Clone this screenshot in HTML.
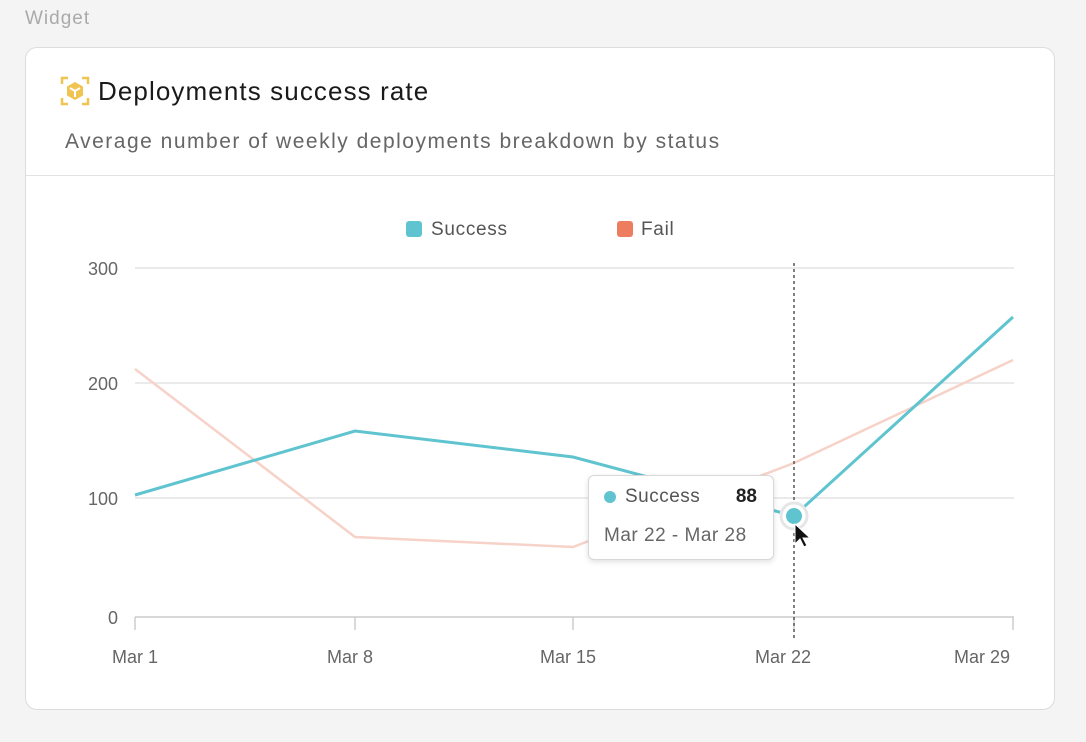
<!DOCTYPE html>
<html><head><style>
body{margin:0;width:1086px;height:742px;background:#f4f4f4;font-family:"Liberation Sans",sans-serif;position:relative;overflow:hidden}
.lbl{position:absolute;left:25px;top:8px;font-size:19px;color:#aaa;letter-spacing:1px}
.card{position:absolute;left:25px;top:47px;width:1028px;height:661px;background:#fff;border:1px solid #dcdcdc;border-radius:12px}
.title{position:absolute;left:98px;top:76px;font-size:26px;color:#1a1a1a;letter-spacing:1.1px}
.sub{position:absolute;left:65px;top:130px;font-size:21px;color:#666;letter-spacing:1.5px}
.div{position:absolute;left:26px;top:175px;width:1028px;height:1px;background:#e2e2e2}
.tip{position:absolute;left:588px;top:475px;width:184px;height:83px;background:#fff;border:1px solid #d8d8d8;border-radius:6px;box-shadow:0 2px 6px rgba(0,0,0,.12)}
</style></head><body>
<div class="lbl">Widget</div>
<div class="card"></div>
<svg style="position:absolute;left:60px;top:76px" width="30" height="30" viewBox="0 0 30 30">
<path d="M2 8V2h6M22 2h6v6M28 22v6h-6M8 28H2v-6" stroke="#f0c451" stroke-width="2.5" fill="none"/>
<polygon points="15,6 23,10.5 23,19.5 15,24 7,19.5 7,10.5" fill="#f0c451"/>
<path d="M10 12l5 3 5-3M15 15v6" stroke="#fff" stroke-width="2" fill="none"/>
</svg>
<div class="title">Deployments success rate</div>
<div class="sub">Average number of weekly deployments breakdown by status</div>
<div class="div"></div>
<svg style="position:absolute;left:0;top:0" width="1086" height="742">
<rect x="406" y="221" width="16" height="16" rx="3" fill="#5fc4cf"/>
<text x="431" y="235" font-size="19" fill="#555" font-family="Liberation Sans" letter-spacing="0.7">Success</text>
<rect x="617" y="221" width="16" height="16" rx="3" fill="#ee7d60"/>
<text x="641" y="235" font-size="19" fill="#555" font-family="Liberation Sans" letter-spacing="0.7">Fail</text>
<g stroke="#e4e4e4" stroke-width="1.5">
<line x1="135" y1="268" x2="1014" y2="268"/><line x1="135" y1="383" x2="1014" y2="383"/><line x1="135" y1="498" x2="1014" y2="498"/>
</g>
<line x1="135" y1="617" x2="1014" y2="617" stroke="#ccc" stroke-width="1.5"/>
<g stroke="#ccc" stroke-width="1.5"><line x1="135" y1="617" x2="135" y2="630"/><line x1="355" y1="617" x2="355" y2="630"/><line x1="573" y1="617" x2="573" y2="630"/><line x1="794" y1="617" x2="794" y2="630"/><line x1="1013" y1="617" x2="1013" y2="630"/></g>
<g font-size="18" fill="#666" font-family="Liberation Sans" text-anchor="end">
<text x="118" y="275">300</text><text x="118" y="390">200</text><text x="118" y="505">100</text><text x="118" y="624">0</text></g>
<g font-size="18" fill="#666" font-family="Liberation Sans" text-anchor="middle">
<text x="135" y="663">Mar 1</text><text x="350" y="663">Mar 8</text><text x="568" y="663">Mar 15</text><text x="783" y="663">Mar 22</text><text x="982" y="663">Mar 29</text></g>
<polyline points="135,369 355,537 573,547 794,463 1013,360" fill="none" stroke="#f6d2c8" stroke-width="2.5"/>
<line x1="794" y1="263" x2="794" y2="640" stroke="#555" stroke-width="1.5" stroke-dasharray="3,3"/>
<polyline points="135,495 355,431 573,457 794,516 1013,317" fill="none" stroke="#5fc4cf" stroke-width="3"/>
<circle cx="794" cy="516" r="13" fill="#fff" stroke="#e6e6e6" stroke-width="3"/>
<circle cx="794" cy="516" r="8" fill="#5fc4cf"/>
<path d="M795 524v20l5-5 4 8 3-1.5-4-7.5h7z" fill="#111" stroke="#fff" stroke-width="1"/>
</svg>
<div class="tip">
<div style="position:absolute;left:15px;top:15px;width:12px;height:12px;border-radius:50%;background:#5fc4cf"></div>
<div style="position:absolute;left:36px;top:10px;font-size:19px;color:#555;letter-spacing:0.5px">Success</div>
<div style="position:absolute;right:16px;top:10px;font-size:19px;font-weight:bold;color:#222">88</div>
<div style="position:absolute;left:15px;top:49px;font-size:19px;color:#666;letter-spacing:0.5px">Mar 22 - Mar 28</div>
</div>
</body></html>
